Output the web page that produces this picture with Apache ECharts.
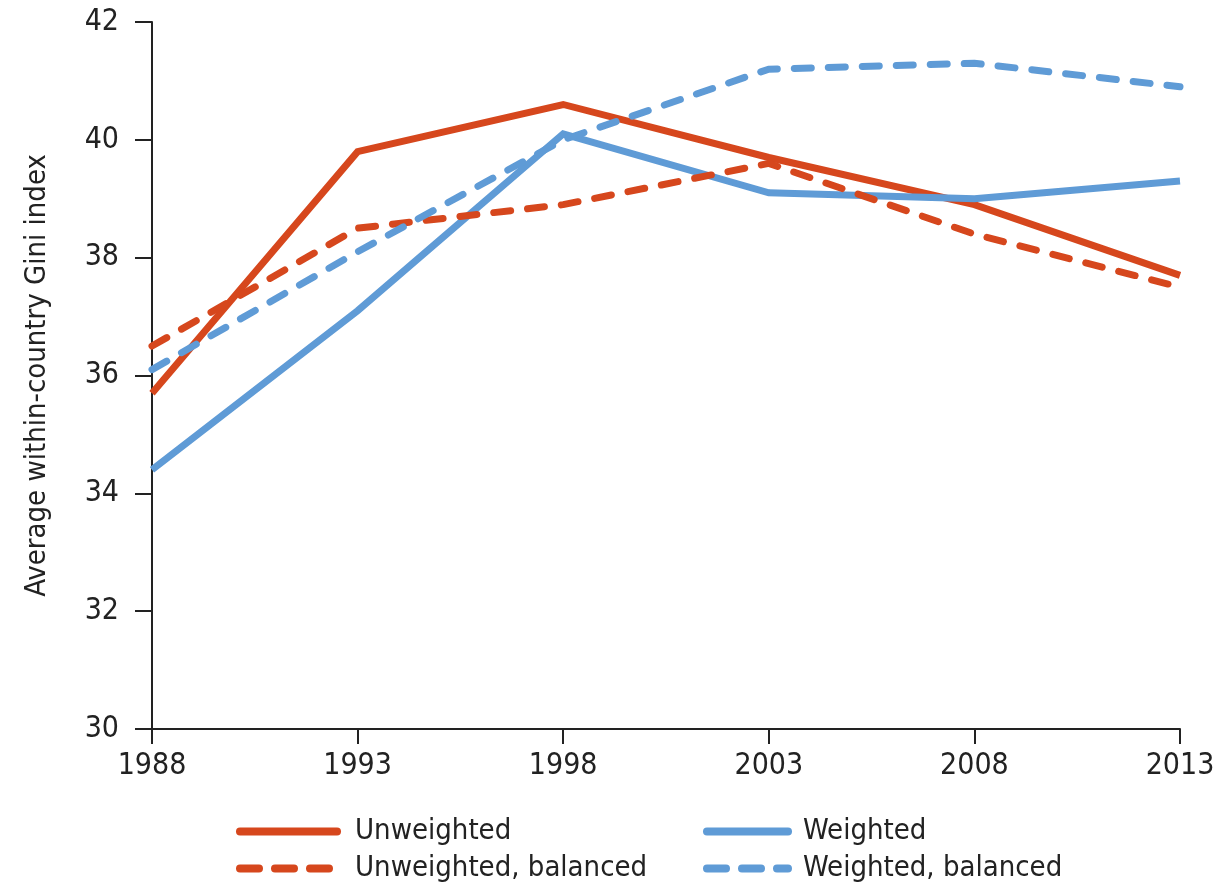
<!DOCTYPE html>
<html>
<head>
<meta charset="utf-8">
<script src="https://cdn.jsdelivr.net/npm/echarts@6/dist/echarts.min.js"></script>
<style>html,body{margin:0;padding:0;background:#fff}#c{width:1229px;height:889px}</style>
</head>
<body>
<div id="c"></div>
<script>
const years = ['1988','1993','1998','2003','2008','2013'];
const unweighted = [35.7, 39.8, 40.6, 39.7, 38.9, 37.7];
const weighted = [34.4, 37.1, 40.1, 39.1, 39.0, 39.3];
const unweightedBalanced = [36.5, 38.5, 38.9, 39.6, 38.4, 37.5];
const weightedBalanced = [36.1, 38.1, 40.0, 41.2, 41.3, 40.9];
const yTicks = [30, 32, 34, 36, 38, 40, 42];

const RED = '#d6471d';
const BLUE = '#5f9bd6';
const FONT = '"Liberation Sans Narrow", "DejaVu Sans Condensed", sans-serif';
const TXT = '#222';

function mk(name, data, color, dashed) {
  return {
    name, type: 'line', data, symbol: 'none', smooth: false,
    lineStyle: { color, width: 7, type: dashed ? [17, 17] : 'solid', cap: dashed ? 'round' : 'butt', join: 'miter' },
    itemStyle: { color },
    emphasis: { disabled: true }
  };
}
function legendItem(name, dashed) {
  return { name, lineStyle: { type: dashed ? [19, 16] : 'solid' } };
}

const chart = echarts.init(document.getElementById('c'), null, { renderer: 'canvas' });
const legendCommon = {
  orient: 'vertical', top: 812, itemGap: 8, itemHeight: 26,
  itemStyle: { opacity: 0 },
  lineStyle: { width: 8, cap: 'round' },
  selectedMode: false
};
chart.setOption({
  animation: false,
  backgroundColor: '#fff',
  grid: { left: 152, right: 49, top: 22, bottom: 160, containLabel: false },
  legend: [
    Object.assign({}, legendCommon, {
      left: 231, itemWidth: 97,
      textStyle: { fontFamily: FONT, fontSize: 29, color: TXT, padding: [0, 0, 0, 13] },
      data: [legendItem('Unweighted', false), legendItem('Unweighted, balanced', true)]
    }),
    Object.assign({}, legendCommon, {
      left: 698, itemWidth: 81,
      textStyle: { fontFamily: FONT, fontSize: 29, color: TXT, padding: [0, 0, 0, 10] },
      data: [legendItem('Weighted', false), legendItem('Weighted, balanced', true)]
    })
  ],
  xAxis: {
    type: 'category', data: years, boundaryGap: false,
    axisLine: { lineStyle: { color: TXT, width: 2 } },
    axisTick: { show: true, length: 15, lineStyle: { color: TXT, width: 2 } },
    axisLabel: { fontFamily: FONT, fontSize: 30, color: TXT, margin: 22 },
    splitLine: { show: false }
  },
  yAxis: {
    type: 'value', min: yTicks[0], max: yTicks[yTicks.length - 1], interval: 2,
    name: 'Average within-country Gini index', nameLocation: 'middle', nameGap: 100,
    nameTextStyle: { fontFamily: FONT, fontSize: 29, color: TXT },
    axisLine: { show: true, lineStyle: { color: TXT, width: 2 } },
    axisTick: { show: true, length: 17, lineStyle: { color: TXT, width: 2 } },
    axisLabel: { fontFamily: FONT, fontSize: 30, color: TXT, margin: 33 },
    splitLine: { show: false }
  },
  series: [
    mk('Unweighted', unweighted, RED, false),
    mk('Weighted', weighted, BLUE, false),
    mk('Unweighted, balanced', unweightedBalanced, RED, true),
    mk('Weighted, balanced', weightedBalanced, BLUE, true)
  ]
});
</script>
</body>
</html>
